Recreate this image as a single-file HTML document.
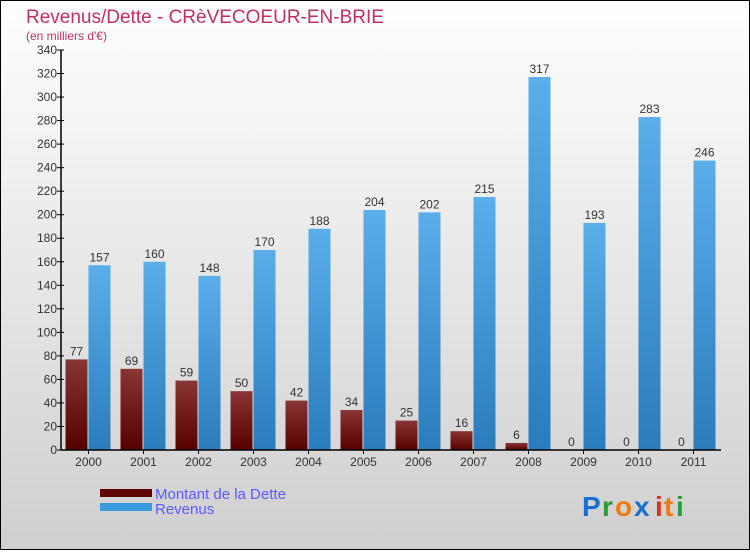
<!DOCTYPE html>
<html><head><meta charset="utf-8"><style>
body{margin:0;}
#c{width:750px;height:550px;position:relative;}
svg text{font-family:"Liberation Sans",sans-serif;}
</style></head><body>
<div id="c">
<svg id="s" width="750" height="550" xmlns="http://www.w3.org/2000/svg">
<defs>
<linearGradient id="bg" x1="0" y1="0" x2="0" y2="1"><stop offset="0" stop-color="#ffffff"/><stop offset="1" stop-color="#cfcfcf"/></linearGradient>
<linearGradient id="gr" x1="0" y1="0" x2="0" y2="1"><stop offset="0" stop-color="#8a3535"/><stop offset="1" stop-color="#560000"/></linearGradient>
<linearGradient id="gb" x1="0" y1="0" x2="0" y2="1"><stop offset="0" stop-color="#5aaeea"/><stop offset="1" stop-color="#2a7cbd"/></linearGradient>
</defs>
<rect x="0.5" y="0.5" width="749" height="549" fill="url(#bg)" stroke="#000"/>
<text x="26" y="23" font-size="19" fill="#c0305f">Revenus/Dette - CRèVECOEUR-EN-BRIE</text>
<text x="26" y="40" font-size="12" fill="#c0305f">(en milliers d'€)</text>
<g id="g"></g>
<rect x="100" y="489" width="52" height="8" fill="#600000"/>
<rect x="100" y="503" width="52" height="8" fill="#3a9ade"/>
<text x="155" y="499" font-size="15" fill="#5a5aff">Montant de la Dette</text>
<text x="155" y="514" font-size="15" fill="#5a5aff">Revenus</text>
<g font-size="28" font-weight="bold">
<text x="582" y="516" fill="#1a6fcf">P</text><text x="602" y="516" fill="#2a9a3a">r</text><text x="615" y="516" fill="#f07a10">o</text><text x="634" y="516" fill="#1a6fcf">x</text><text x="655" y="516" fill="#e03010">i</text><text x="664" y="516" fill="#f07a10">t</text><text x="676" y="516" fill="#2a9a3a">i</text>
</g>
</svg>
</div>
<script>
const years=["2000","2001","2002","2003","2004","2005","2006","2007","2008","2009","2010","2011"];
const dette=[77,69,59,50,42,34,25,16,6,0,0,0];
const revenus=[157,160,148,170,188,204,202,215,317,193,283,246];
const ticks=[0,20,40,60,80,100,120,140,160,180,200,220,240,260,280,300,320,340];
const NS="http://www.w3.org/2000/svg";
const g=document.getElementById('g');
const x0=61,step=55,y0=450,ymax=340,ph=400;
const y=v=>y0-v/ymax*ph;
function el(t,a,txt){const e=document.createElementNS(NS,t);for(const k in a)e.setAttribute(k,a[k]);if(txt!==undefined)e.textContent=txt;g.appendChild(e);return e;}
ticks.forEach(t=>{
 const l=el('line',{x1:x0-4,x2:x0+3,y1:y(t),y2:y(t),stroke:'#000'});
 
 
 const tx=el('text',{x:x0-4,y:y(t)+4,'font-size':12,'text-anchor':'end',fill:'#333'},t);
 
 
});
years.forEach((yr,i)=>{
 const c=x0+step*i+step/2;
 const r1=el('rect',{x:c-23,y:y(dette[i]),width:22,height:y0-y(dette[i]),fill:'url(#gr)'});
 
 
 const r2=el('rect',{x:c,y:y(revenus[i]),width:22,height:y0-y(revenus[i]),fill:'url(#gb)'});
 
 
 const t1=el('text',{x:c-12,y:y(dette[i])-4,'font-size':12,'text-anchor':'middle',fill:'#333'},dette[i]);
 
 
 const t2=el('text',{x:c+11,y:y(revenus[i])-4,'font-size':12,'text-anchor':'middle',fill:'#333'},revenus[i]);
 
 
 const tk=el('line',{x1:c,x2:c,y1:y0,y2:y0+4,stroke:'#000'});
 
 
 const xl=el('text',{x:c,y:y0+16,'font-size':12,'text-anchor':'middle',fill:'#333'},yr);
 
 
});
const ax=el('line',{x1:x0,x2:x0,y1:y(340),y2:y0,stroke:'#000','stroke-width':1.5});


const bx=el('line',{x1:x0,x2:x0+step*12,y1:y0,y2:y0,stroke:'#000','stroke-width':1.5});


</script>
</body></html>
